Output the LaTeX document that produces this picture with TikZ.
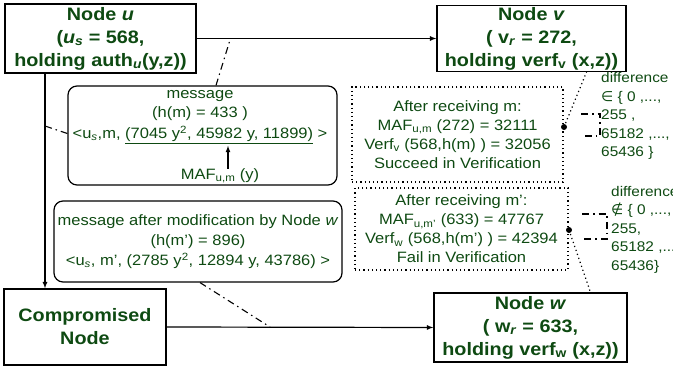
\documentclass[tikz,border=0pt]{standalone}
\usepackage{fontspec}
\setmainfont{Liberation Sans}[FakeStretch=1.1]
\newfontfamily\symbfont{DejaVu Sans}
\usepackage{tikz}
\tikzset{>=latex}
\definecolor{nodegreen}{HTML}{0E4A12}

\begin{document}
\begin{tikzpicture}[x=1pt, y=-1pt,
    mainbox/.style={draw, line width=1.3pt, align=center, inner sep=1pt, text=nodegreen, font=\fontsize{18}{23}\selectfont\bfseries},
    msgbox/.style={draw, line width=1.2pt, rounded corners=9pt, align=center, inner sep=2pt, text=nodegreen, font=\fontsize{15}{20}\selectfont},
    checkbox/.style={draw, line width=1.2pt, dash pattern=on 1.2pt off 3pt, align=center, inner sep=2pt, text=nodegreen, font=\fontsize{15}{19}\selectfont},
    dotline/.style={line width=1.2pt, dash pattern=on 1.2pt off 3pt},
    difftext/.style={align=left, anchor=north west, inner sep=0pt, text=nodegreen, font=\fontsize{14}{18.5}\selectfont},
    dashdotline/.style={line width=1.1pt, dash pattern=on 7pt off 4pt on 1.5pt off 4pt}]
    \useasboundingbox (0,0) rectangle (673,371);

    % the four nodes
    \node[mainbox, minimum width=191pt, minimum height=69pt] (u) at (100.5,38.5) {Node \textit{u}\\(\textit{u}\textsubscript{\textit{s}} = 568,\\holding auth\textsubscript{\textit{u}}(y,z))};
    \node[mainbox, minimum width=189pt, minimum height=66pt] (v) at (531.5,38.5) {Node \textit{v}\\( v\textsubscript{\textit{r}} = 272,\\holding verf\textsubscript{v} (x,z))};
    \node[mainbox, minimum width=162pt, minimum height=76pt] (comp) at (85,327) {Compromised\\Node};
    \node[mainbox, minimum width=193pt, minimum height=69pt] (w) at (530.5,327.5) {Node \textit{w}\\( w\textsubscript{\textit{r}} = 633,\\holding verf\textsubscript{w} (x,z))};

    \draw[->, line width=1.2pt] (u.east) -- (v.west);
    \draw[->, line width=1.2pt] ([xshift=-55.5pt]u.south) -- ([xshift=-55.5pt]u.south |- comp.north);
    \draw[->, line width=1.2pt] (comp.east) -- (w.west);

    % messages
    \node[msgbox, minimum width=269pt, minimum height=99pt] (msg) at (202.5,135.5) {};
    \node[align=center, inner sep=0pt, text=nodegreen, font=\fontsize{15}{19}\selectfont] (msgtext) at (200,117) {message\\(h(m) = 433 )\\[2pt]<u\textsubscript{\textit{s}},m, \underline{(7045 y\textsuperscript{2}, 45982 y, 11899)} >};
    \node[inner sep=0pt, text=nodegreen, font=\fontsize{15}{19}\selectfont] (maf) at (220,176) {MAF\textsubscript{u,m} (y)};
    \draw[->, line width=1.2pt] ([xshift=8pt]maf.north) -- ([xshift=8pt, yshift=-2pt]maf.north |- msgtext.south);

    \node[msgbox, minimum width=288pt, minimum height=81pt] (mod) at (198,241.5) {message after modification by Node \textit{w}\\(h(m’) = 896)\\<u\textsubscript{\textit{s}}, m’, (2785 y\textsuperscript{2}, 12894 y, 43786) >};

    \coordinate (tapuv) at (230,40);
    \coordinate (tapu) at (45,126);
    \coordinate (tapcw) at (270,327);
    \draw[dashdotline] ([xshift=13.5pt]msg.north) -- (tapuv);
    \draw[dashdotline] ([yshift=2pt]msg.west) -- (tapu);
    \draw[dashdotline] ([xshift=2pt]mod.south) -- (tapcw);

    % checks at the receivers
    \node[checkbox, minimum width=211pt, minimum height=95pt] (checkv) at (457.5,134.5) {After receiving m:\\MAF\textsubscript{u,m} (272) = 32111\\Verf\textsubscript{v} (568,h(m) ) = 32056\\Succeed in Verification};
    \node[checkbox, minimum width=213pt, minimum height=82pt] (checkw) at (461.5,229) {After receiving m’:\\MAF\textsubscript{u,m’} (633) = 47767\\Verf\textsubscript{w} (568,h(m’) ) = 42394\\Fail in Verification};

    \coordinate (dotv) at (564,127);
    \coordinate (dotw) at (569,230);
    \fill (dotv) circle[radius=3pt];
    \fill (dotw) circle[radius=3pt];
    \draw[dotline] (dotv) -- ([xshift=55pt]v.south);
    \draw[dotline] (dotw) -- ([xshift=60pt]w.north);

    \draw[dashdotline] (581,114) -| (600,136) -- (585,136);
    \draw[dashdotline] (582,214) -| (607,239) -- (582,239);
    \node[difftext] (diffv) at (601,72.5) {difference\\{\symbfont ∈} \{ 0 ,...,\\255 ,\\65182 ,...,\\65436 \}};
    \node[difftext] (diffw) at (611,186) {difference\\{\symbfont ∉} \{ 0 ,...,\\255,\\65182 ,...,\\65436\}};
\end{tikzpicture}
\end{document}
